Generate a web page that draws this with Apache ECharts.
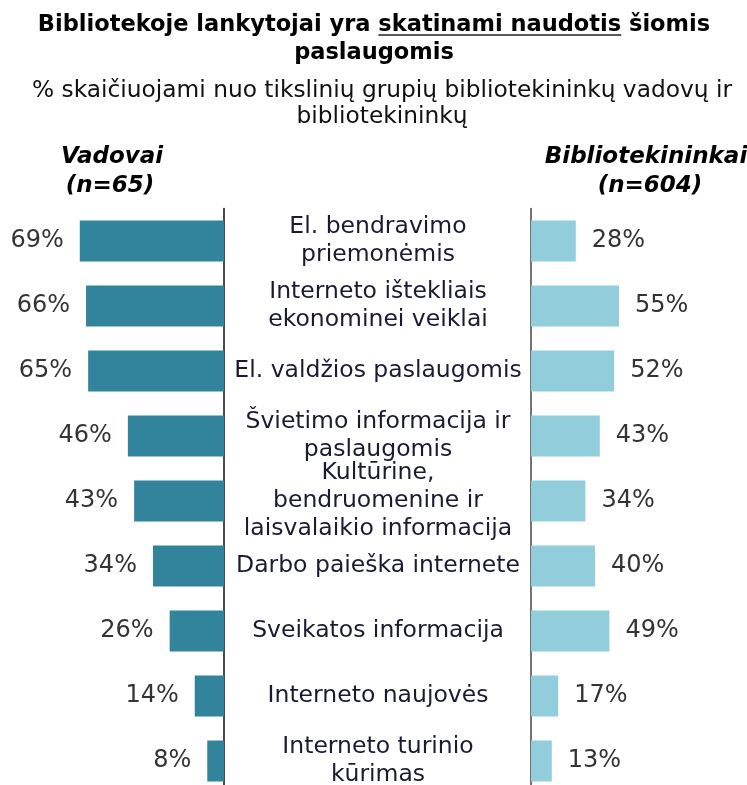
<!DOCTYPE html>
<html><head><meta charset="utf-8">
<script src="https://cdn.jsdelivr.net/npm/echarts@6/dist/echarts.min.js"></script>
<style>html,body{margin:0;padding:0;background:#fff}#c{width:747px;height:785px}</style>
</head><body><div id="c"></div>
<script>
const categories = [
  "El. bendravimo\npriemonėmis",
  "Interneto ištekliais\nekonominei veiklai",
  "El. valdžios paslaugomis",
  "Švietimo informacija ir\npaslaugomis",
  "Kultūrine,\nbendruomenine ir\nlaisvalaikio informacija",
  "Darbo paieška internete",
  "Sveikatos informacija",
  "Interneto naujovės",
  "Interneto turinio\nkūrimas"
];
const vadovai = [69, 66, 65, 46, 43, 34, 26, 14, 8];
const bibliotekininkai = [28, 55, 52, 43, 34, 40, 49, 17, 13];

const FONT = "DejaVu Sans";
const TITLE_FONT = 'bold 22.5px "DejaVu Sans"';
const titlePre = 'Bibliotekoje lankytojai yra ';
const titleU = 'skatinami naudotis';
const titlePost = ' šiomis';
const ctx = document.createElement('canvas').getContext('2d');
ctx.font = TITLE_FONT;
const wAll = ctx.measureText(titlePre + titleU + titlePost).width;
const uStart = 374 - wAll / 2 + ctx.measureText(titlePre).width;
const uEnd = uStart + ctx.measureText(titleU).width;

const chart = echarts.init(document.getElementById('c'), null, {renderer: 'canvas'});
const labelStyle = {show: true, formatter: '{c}%', fontFamily: FONT, fontSize: 24, color: '#333', distance: 16};
chart.setOption({
  animation: false,
  backgroundColor: '#fff',
  grid: [
    {left: 15, width: 209, top: 208.5, height: 585, outerBoundsMode: 'none', containLabel: false},
    {left: 531, width: 160, top: 208.5, height: 585, outerBoundsMode: 'none', containLabel: false}
  ],
  xAxis: [
    {gridIndex: 0, type: 'value', min: 0, max: 100, inverse: true, show: false},
    {gridIndex: 1, type: 'value', min: 0, max: 100, show: false}
  ],
  yAxis: [
    {gridIndex: 0, type: 'category', data: categories, inverse: true, position: 'right',
     axisLine: {show: true, lineStyle: {color: '#111', width: 1.5}}, axisTick: {show: false}, axisLabel: {show: false}},
    {gridIndex: 1, type: 'category', data: categories, inverse: true, position: 'left',
     axisLine: {show: true, lineStyle: {color: '#444', width: 1.5}}, axisTick: {show: false},
     axisLabel: {show: true, align: 'center', margin: 153, fontFamily: FONT, fontSize: 23.5, lineHeight: 28, color: '#1a1a33'}}
  ],
  series: [
    {type: 'bar', xAxisIndex: 0, yAxisIndex: 0, data: vadovai, barWidth: 41,
     itemStyle: {color: '#31849B'}, label: Object.assign({position: 'left'}, labelStyle)},
    {type: 'bar', xAxisIndex: 1, yAxisIndex: 1, data: bibliotekininkai, barWidth: 41,
     itemStyle: {color: '#92CDDC'}, label: Object.assign({position: 'right'}, labelStyle)}
  ],
  graphic: [
    {type: 'text', x: 374, y: 25, style: {text: titlePre + titleU + titlePost, font: TITLE_FONT, fill: '#000', align: 'center', verticalAlign: 'middle'}},
    {type: 'line', shape: {x1: uStart, y1: 35, x2: uEnd, y2: 35}, style: {stroke: '#222', lineWidth: 1.5}},
    {type: 'text', x: 374, y: 53, style: {text: 'paslaugomis', font: TITLE_FONT, fill: '#000', align: 'center', verticalAlign: 'middle'}},
    {type: 'text', x: 382, y: 91, style: {text: '% skaičiuojami nuo tikslinių grupių bibliotekininkų vadovų ir', font: '23.3px "DejaVu Sans"', fill: '#111', align: 'center', verticalAlign: 'middle'}},
    {type: 'text', x: 382, y: 117, style: {text: 'bibliotekininkų', font: '23.3px "DejaVu Sans"', fill: '#111', align: 'center', verticalAlign: 'middle'}},
    {type: 'text', x: 112, y: 157, style: {text: 'Vadovai', font: 'italic bold 23px "DejaVu Sans"', fill: '#000', align: 'center', verticalAlign: 'middle'}},
    {type: 'text', x: 110, y: 186, style: {text: '(n=65)', font: 'italic bold 23px "DejaVu Sans"', fill: '#000', align: 'center', verticalAlign: 'middle'}},
    {type: 'text', x: 646, y: 157, style: {text: 'Bibliotekininkai', font: 'italic bold 23px "DejaVu Sans"', fill: '#000', align: 'center', verticalAlign: 'middle'}},
    {type: 'text', x: 650, y: 186, style: {text: '(n=604)', font: 'italic bold 23px "DejaVu Sans"', fill: '#000', align: 'center', verticalAlign: 'middle'}}
  ]
});
</script></body></html>
